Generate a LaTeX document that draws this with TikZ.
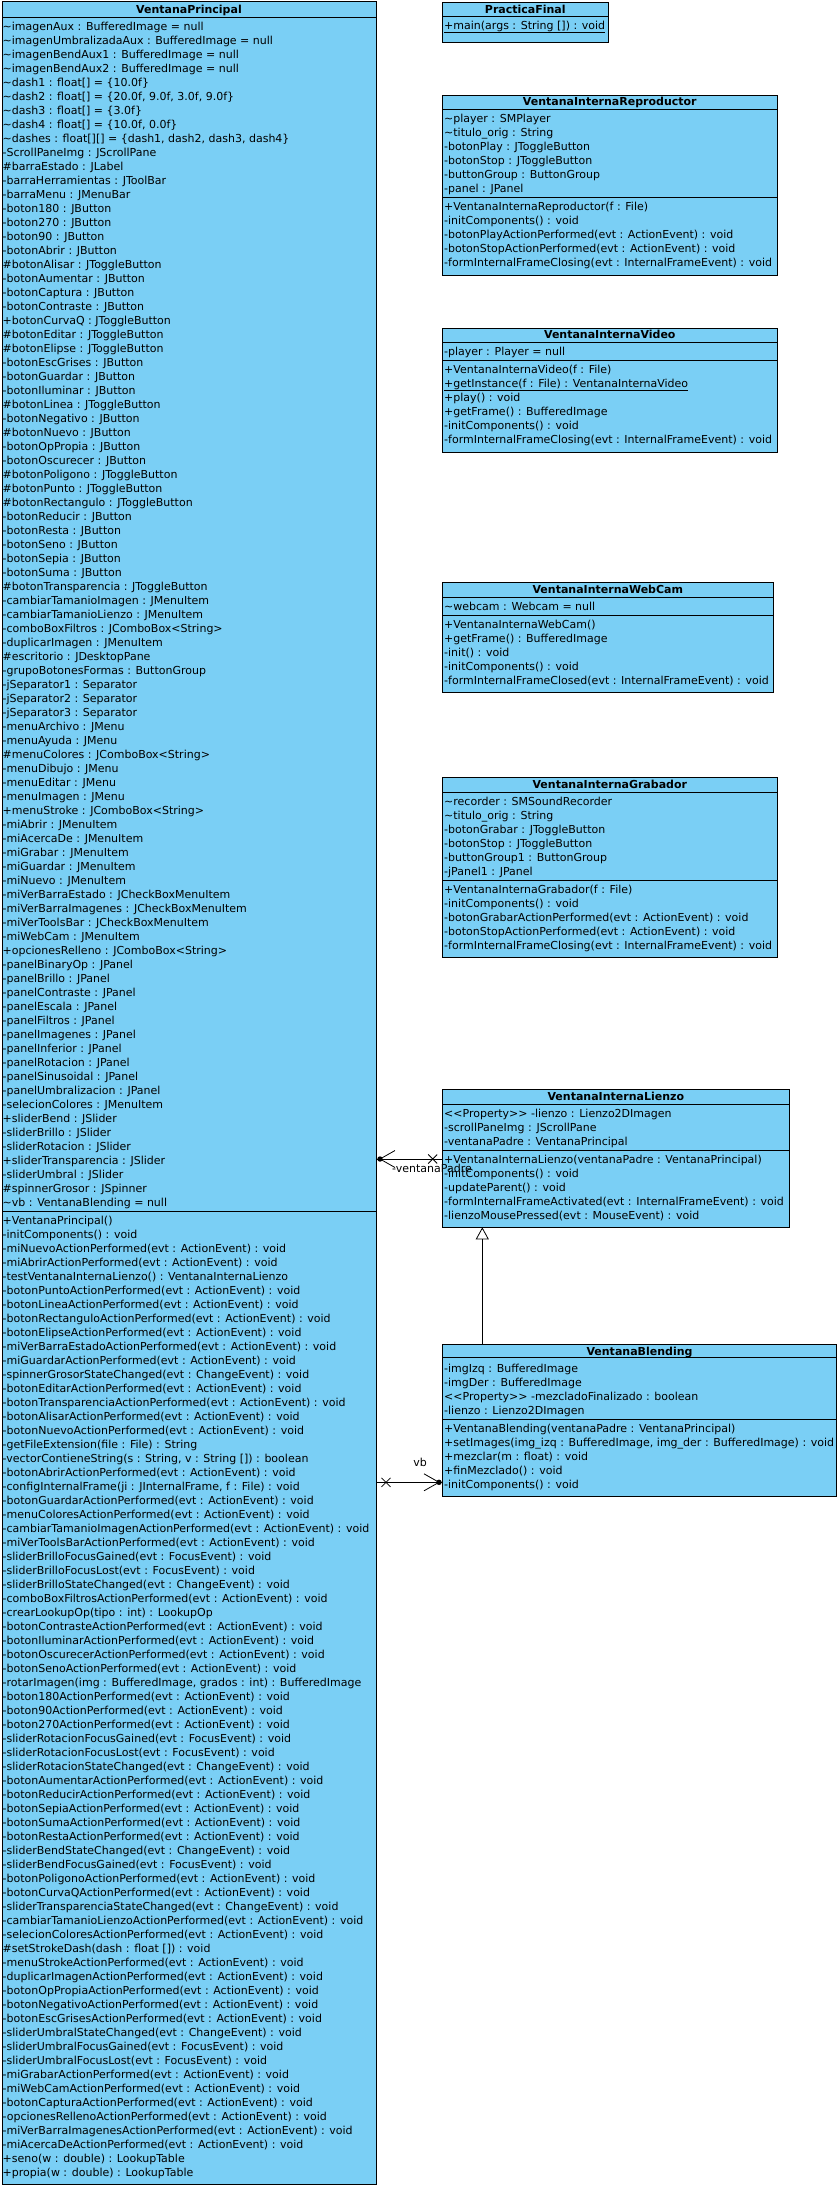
\documentclass[tikz,border=0pt]{standalone}
\usepackage{fontspec}
\setmainfont{DejaVu Sans}
\usetikzlibrary{arrows.meta}
\definecolor{clsblue}{RGB}{122,207,245}
\newcommand{\stereo}[1]{<\kern0pt<#1>\kern0pt>}
\newcommand{\vptilde}{\textasciitilde}
\begin{document}
\begin{tikzpicture}[x=1pt,y=-1pt,
  cls/.style={draw=black, fill=clsblue, line width=1pt, inner sep=0pt, outer sep=0pt, anchor=north west},
  rowtxt/.style={anchor=base west, inner sep=0pt, font=\fontsize{11}{14}\selectfont},
  ttl/.style={anchor=base, inner sep=0pt, font=\fontsize{11}{14}\selectfont\bfseries},
  sepline/.style={line width=1pt},
  conn/.style={line width=0.8pt},
  lbl/.style={inner sep=0pt, font=\fontsize{11}{14}\selectfont}]
\fill[white] (0,0) rectangle (840,2188);
\useasboundingbox (0,0) rectangle (840,2188);

% ---------------- VentanaPrincipal ----------------
\node[cls, minimum width=374pt, minimum height=2183pt] (vp) at (2,1) {};
\node[ttl] (vp-t) at (189,13.3) {VentanaPrincipal};
\draw[sepline] (vp.west |- 0,17) -- (vp.east |- 0,17);
\draw[sepline] (vp.west |- 0,1211) -- (vp.east |- 0,1211);
\foreach \t [count=\i from 0] in {
{\vptilde imagenAux : BufferedImage = null},
{\vptilde imagenUmbralizadaAux : BufferedImage = null},
{\vptilde imagenBendAux1 : BufferedImage = null},
{\vptilde imagenBendAux2 : BufferedImage = null},
{\vptilde dash1 : float[] = \{10.0f\}},
{\vptilde dash2 : float[] = \{20.0f, 9.0f, 3.0f, 9.0f\}},
{\vptilde dash3 : float[] = \{3.0f\}},
{\vptilde dash4 : float[] = \{10.0f, 0.0f\}},
{\vptilde dashes : float[][] = \{dash1, dash2, dash3, dash4\}},
{-ScrollPaneImg : JScrollPane},
{\#barraEstado : JLabel},
{-barraHerramientas : JToolBar},
{-barraMenu : JMenuBar},
{-boton180 : JButton},
{-boton270 : JButton},
{-boton90 : JButton},
{-botonAbrir : JButton},
{\#botonAlisar : JToggleButton},
{-botonAumentar : JButton},
{-botonCaptura : JButton},
{-botonContraste : JButton},
{+botonCurvaQ : JToggleButton},
{\#botonEditar : JToggleButton},
{\#botonElipse : JToggleButton},
{-botonEscGrises : JButton},
{-botonGuardar : JButton},
{-botonIluminar : JButton},
{\#botonLinea : JToggleButton},
{-botonNegativo : JButton},
{\#botonNuevo : JButton},
{-botonOpPropia : JButton},
{-botonOscurecer : JButton},
{\#botonPoligono : JToggleButton},
{\#botonPunto : JToggleButton},
{\#botonRectangulo : JToggleButton},
{-botonReducir : JButton},
{-botonResta : JButton},
{-botonSeno : JButton},
{-botonSepia : JButton},
{-botonSuma : JButton},
{\#botonTransparencia : JToggleButton},
{-cambiarTamanioImagen : JMenuItem},
{-cambiarTamanioLienzo : JMenuItem},
{-comboBoxFiltros : JComboBox<String>},
{-duplicarImagen : JMenuItem},
{\#escritorio : JDesktopPane},
{-grupoBotonesFormas : ButtonGroup},
{-jSeparator1 : Separator},
{-jSeparator2 : Separator},
{-jSeparator3 : Separator},
{-menuArchivo : JMenu},
{-menuAyuda : JMenu},
{\#menuColores : JComboBox<String>},
{-menuDibujo : JMenu},
{-menuEditar : JMenu},
{-menuImagen : JMenu},
{+menuStroke : JComboBox<String>},
{-miAbrir : JMenuItem},
{-miAcercaDe : JMenuItem},
{-miGrabar : JMenuItem},
{-miGuardar : JMenuItem},
{-miNuevo : JMenuItem},
{-miVerBarraEstado : JCheckBoxMenuItem},
{-miVerBarraImagenes : JCheckBoxMenuItem},
{-miVerToolsBar : JCheckBoxMenuItem},
{-miWebCam : JMenuItem},
{+opcionesRelleno : JComboBox<String>},
{-panelBinaryOp : JPanel},
{-panelBrillo : JPanel},
{-panelContraste : JPanel},
{-panelEscala : JPanel},
{-panelFiltros : JPanel},
{-panelImagenes : JPanel},
{-panelInferior : JPanel},
{-panelRotacion : JPanel},
{-panelSinusoidal : JPanel},
{-panelUmbralizacion : JPanel},
{-selecionColores : JMenuItem},
{+sliderBend : JSlider},
{-sliderBrillo : JSlider},
{-sliderRotacion : JSlider},
{+sliderTransparencia : JSlider},
{-sliderUmbral : JSlider},
{\#spinnerGrosor : JSpinner},
{\vptilde vb : VentanaBlending = null}
}{\node[rowtxt] (vp-a\i) at (2.5,30+14*\i) {\t};}
\foreach \t [count=\i from 0] in {
{+VentanaPrincipal()},
{-initComponents() : void},
{-miNuevoActionPerformed(evt : ActionEvent) : void},
{-miAbrirActionPerformed(evt : ActionEvent) : void},
{-testVentanaInternaLienzo() : VentanaInternaLienzo},
{-botonPuntoActionPerformed(evt : ActionEvent) : void},
{-botonLineaActionPerformed(evt : ActionEvent) : void},
{-botonRectanguloActionPerformed(evt : ActionEvent) : void},
{-botonElipseActionPerformed(evt : ActionEvent) : void},
{-miVerBarraEstadoActionPerformed(evt : ActionEvent) : void},
{-miGuardarActionPerformed(evt : ActionEvent) : void},
{-spinnerGrosorStateChanged(evt : ChangeEvent) : void},
{-botonEditarActionPerformed(evt : ActionEvent) : void},
{-botonTransparenciaActionPerformed(evt : ActionEvent) : void},
{-botonAlisarActionPerformed(evt : ActionEvent) : void},
{-botonNuevoActionPerformed(evt : ActionEvent) : void},
{-getFileExtension(file : File) : String},
{-vectorContieneString(s : String, v : String []) : boolean},
{-botonAbrirActionPerformed(evt : ActionEvent) : void},
{-configInternalFrame(ji : JInternalFrame, f : File) : void},
{-botonGuardarActionPerformed(evt : ActionEvent) : void},
{-menuColoresActionPerformed(evt : ActionEvent) : void},
{-cambiarTamanioImagenActionPerformed(evt : ActionEvent) : void},
{-miVerToolsBarActionPerformed(evt : ActionEvent) : void},
{-sliderBrilloFocusGained(evt : FocusEvent) : void},
{-sliderBrilloFocusLost(evt : FocusEvent) : void},
{-sliderBrilloStateChanged(evt : ChangeEvent) : void},
{-comboBoxFiltrosActionPerformed(evt : ActionEvent) : void},
{-crearLookupOp(tipo : int) : LookupOp},
{-botonContrasteActionPerformed(evt : ActionEvent) : void},
{-botonIluminarActionPerformed(evt : ActionEvent) : void},
{-botonOscurecerActionPerformed(evt : ActionEvent) : void},
{-botonSenoActionPerformed(evt : ActionEvent) : void},
{-rotarImagen(img : BufferedImage, grados : int) : BufferedImage},
{-boton180ActionPerformed(evt : ActionEvent) : void},
{-boton90ActionPerformed(evt : ActionEvent) : void},
{-boton270ActionPerformed(evt : ActionEvent) : void},
{-sliderRotacionFocusGained(evt : FocusEvent) : void},
{-sliderRotacionFocusLost(evt : FocusEvent) : void},
{-sliderRotacionStateChanged(evt : ChangeEvent) : void},
{-botonAumentarActionPerformed(evt : ActionEvent) : void},
{-botonReducirActionPerformed(evt : ActionEvent) : void},
{-botonSepiaActionPerformed(evt : ActionEvent) : void},
{-botonSumaActionPerformed(evt : ActionEvent) : void},
{-botonRestaActionPerformed(evt : ActionEvent) : void},
{-sliderBendStateChanged(evt : ChangeEvent) : void},
{-sliderBendFocusGained(evt : FocusEvent) : void},
{-botonPoligonoActionPerformed(evt : ActionEvent) : void},
{-botonCurvaQActionPerformed(evt : ActionEvent) : void},
{-sliderTransparenciaStateChanged(evt : ChangeEvent) : void},
{-cambiarTamanioLienzoActionPerformed(evt : ActionEvent) : void},
{-selecionColoresActionPerformed(evt : ActionEvent) : void},
{\#setStrokeDash(dash : float []) : void},
{-menuStrokeActionPerformed(evt : ActionEvent) : void},
{-duplicarImagenActionPerformed(evt : ActionEvent) : void},
{-botonOpPropiaActionPerformed(evt : ActionEvent) : void},
{-botonNegativoActionPerformed(evt : ActionEvent) : void},
{-botonEscGrisesActionPerformed(evt : ActionEvent) : void},
{-sliderUmbralStateChanged(evt : ChangeEvent) : void},
{-sliderUmbralFocusGained(evt : FocusEvent) : void},
{-sliderUmbralFocusLost(evt : FocusEvent) : void},
{-miGrabarActionPerformed(evt : ActionEvent) : void},
{-miWebCamActionPerformed(evt : ActionEvent) : void},
{-botonCapturaActionPerformed(evt : ActionEvent) : void},
{-opcionesRellenoActionPerformed(evt : ActionEvent) : void},
{-miVerBarraImagenesActionPerformed(evt : ActionEvent) : void},
{-miAcercaDeActionPerformed(evt : ActionEvent) : void},
{+seno(w : double) : LookupTable},
{+propia(w : double) : LookupTable}
}{\node[rowtxt] (vp-m\i) at (2.5,1224+14*\i) {\t};}

% ---------------- PracticaFinal ----------------
\node[cls, minimum width=166pt, minimum height=39.6pt] (pf) at (442.3,2.7) {};
\node[ttl] (pf-t) at (525.3,13) {PracticaFinal};
\draw[sepline] (pf.west |- 0,16) -- (pf.east |- 0,16);
\node[rowtxt] (pf-m0) at (444,29) {\underline{+main(args : String []) : void}};

% ---------------- VentanaInternaReproductor ----------------
\node[cls, minimum width=335pt, minimum height=180pt] (rep) at (442.3,95.3) {};
\node[ttl] (rep-t) at (609.8,105.7) {VentanaInternaReproductor};
\draw[sepline] (rep.west |- 0,109.3) -- (rep.east |- 0,109.3);
\draw[sepline] (rep.west |- 0,197.7) -- (rep.east |- 0,197.7);
\foreach \t [count=\i from 0] in {
{\vptilde player : SMPlayer},
{\vptilde titulo\_orig : String},
{-botonPlay : JToggleButton},
{-botonStop : JToggleButton},
{-buttonGroup : ButtonGroup},
{-panel : JPanel}
}{\node[rowtxt] (rep-a\i) at (444,122.3+14*\i) {\t};}
\foreach \t [count=\i from 0] in {
{+VentanaInternaReproductor(f : File)},
{-initComponents() : void},
{-botonPlayActionPerformed(evt : ActionEvent) : void},
{-botonStopActionPerformed(evt : ActionEvent) : void},
{-formInternalFrameClosing(evt : InternalFrameEvent) : void}
}{\node[rowtxt] (rep-m\i) at (444,210.3+14*\i) {\t};}

% ---------------- VentanaInternaVideo ----------------
\node[cls, minimum width=335pt, minimum height=123.6pt] (vid) at (442.3,328.7) {};
\node[ttl] (vid-t) at (609.8,338.7) {VentanaInternaVideo};
\draw[sepline] (vid.west |- 0,342.3) -- (vid.east |- 0,342.3);
\draw[sepline] (vid.west |- 0,360.3) -- (vid.east |- 0,360.3);
\node[rowtxt] (vid-a0) at (444,355) {-player : Player = null};
\foreach \t [count=\i from 0] in {
{+VentanaInternaVideo(f : File)},
{\underline{+getInstance(f : File) : VentanaInternaVideo}},
{+play() : void},
{+getFrame() : BufferedImage},
{-initComponents() : void},
{-formInternalFrameClosing(evt : InternalFrameEvent) : void}
}{\node[rowtxt] (vid-m\i) at (444,373+14*\i) {\t};}

% ---------------- VentanaInternaWebCam ----------------
\node[cls, minimum width=331pt, minimum height=109.3pt] (wc) at (442.3,582.7) {};
\node[ttl] (wc-t) at (607.8,593.3) {VentanaInternaWebCam};
\draw[sepline] (wc.west |- 0,597.7) -- (wc.east |- 0,597.7);
\draw[sepline] (wc.west |- 0,615.7) -- (wc.east |- 0,615.7);
\node[rowtxt] (wc-a0) at (444,610) {\vptilde webcam : Webcam = null};
\foreach \t [count=\i from 0] in {
{+VentanaInternaWebCam()},
{+getFrame() : BufferedImage},
{-init() : void},
{-initComponents() : void},
{-formInternalFrameClosed(evt : InternalFrameEvent) : void}
}{\node[rowtxt] (wc-m\i) at (444,628+14*\i) {\t};}

% ---------------- VentanaInternaGrabador ----------------
\node[cls, minimum width=335pt, minimum height=179.6pt] (gr) at (442.3,777.7) {};
\node[ttl] (gr-t) at (609.8,788) {VentanaInternaGrabador};
\draw[sepline] (gr.west |- 0,792.3) -- (gr.east |- 0,792.3);
\draw[sepline] (gr.west |- 0,880.7) -- (gr.east |- 0,880.7);
\foreach \t [count=\i from 0] in {
{\vptilde recorder : SMSoundRecorder},
{\vptilde titulo\_orig : String},
{-botonGrabar : JToggleButton},
{-botonStop : JToggleButton},
{-buttonGroup1 : ButtonGroup},
{-jPanel1 : JPanel}
}{\node[rowtxt] (gr-a\i) at (444,805+14*\i) {\t};}
\foreach \t [count=\i from 0] in {
{+VentanaInternaGrabador(f : File)},
{-initComponents() : void},
{-botonGrabarActionPerformed(evt : ActionEvent) : void},
{-botonStopActionPerformed(evt : ActionEvent) : void},
{-formInternalFrameClosing(evt : InternalFrameEvent) : void}
}{\node[rowtxt] (gr-m\i) at (444,893.3+14*\i) {\t};}

% ---------------- VentanaInternaLienzo ----------------
\node[cls, minimum width=347pt, minimum height=138pt] (lz) at (442.3,1089.3) {};
\node[ttl] (lz-t) at (615.8,1100) {VentanaInternaLienzo};
\draw[sepline] (lz.west |- 0,1104.3) -- (lz.east |- 0,1104.3);
\draw[sepline] (lz.west |- 0,1150.3) -- (lz.east |- 0,1150.3);
\foreach \t [count=\i from 0] in {
{\stereo{Property} -lienzo : Lienzo2DImagen},
{-scrollPaneImg : JScrollPane},
{-ventanaPadre : VentanaPrincipal}
}{\node[rowtxt] (lz-a\i) at (444,1117.3+14*\i) {\t};}
\foreach \t [count=\i from 0] in {
{+VentanaInternaLienzo(ventanaPadre : VentanaPrincipal)},
{-initComponents() : void},
{-updateParent() : void},
{-formInternalFrameActivated(evt : InternalFrameEvent) : void},
{-lienzoMousePressed(evt : MouseEvent) : void}
}{\node[rowtxt] (lz-m\i) at (444,1163.3+14*\i) {\t};}

% ---------------- VentanaBlending ----------------
\node[cls, minimum width=394.4pt, minimum height=151.3pt] (bl) at (442.3,1344.7) {};
\node[ttl] (bl-t) at (639.5,1355) {VentanaBlending};
\draw[sepline] (bl.west |- 0,1357.5) -- (bl.east |- 0,1357.5);
\draw[sepline] (bl.west |- 0,1419.7) -- (bl.east |- 0,1419.7);
\foreach \t [count=\i from 0] in {
{-imgIzq : BufferedImage},
{-imgDer : BufferedImage},
{\stereo{Property} -mezcladoFinalizado : boolean},
{-lienzo : Lienzo2DImagen}
}{\node[rowtxt] (bl-a\i) at (444,1372.3+14*\i) {\t};}
\foreach \t [count=\i from 0] in {
{+VentanaBlending(ventanaPadre : VentanaPrincipal)},
{+setImages(img\_izq : BufferedImage, img\_der : BufferedImage) : void},
{+mezclar(m : float) : void},
{+finMezclado() : void},
{-initComponents() : void}
}{\node[rowtxt] (bl-m\i) at (444,1432.3+14*\i) {\t};}

% ---------------- Connectors ----------------
\coordinate (c1) at (0,1159);
\draw[conn] (vp.east |- c1) -- (lz.west |- c1);
\path (vp.east |- c1) ++(4,0) coordinate (d1);
\fill (d1) circle (2.7pt);
\draw[conn] (d1) ++(15,-8.5) -- (d1) -- ++(15,8.5);
\path (lz.west |- c1) ++(-9.6,0) coordinate (x1);
\draw[conn] (x1) ++(-4.5,-4.5) -- ++(9,9) (x1) ++(-4.5,4.5) -- ++(9,-9);
\node[lbl, anchor=base west] (l1) at (392,1172.5) {-ventanaPadre};

\coordinate (c2) at (0,1482.3);
\draw[conn] (vp.east |- c2) -- (bl.west |- c2);
\path (bl.west |- c2) ++(-3.3,0) coordinate (d2);
\fill (d2) circle (2.7pt);
\draw[conn] (d2) ++(-15,-8.5) -- (d2) -- ++(-15,8.5);
\path (vp.east |- c2) ++(10,0) coordinate (x2);
\draw[conn] (x2) ++(-4.5,-4.5) -- ++(9,9) (x2) ++(-4.5,4.5) -- ++(9,-9);
\node[lbl, anchor=base] (l2) at (420,1466) {vb};

\coordinate (g1) at (482.3,0);
\draw[conn, -{Triangle[open, length=12pt, width=13pt]}] (bl.north -| g1) -- (lz.south -| g1);
\end{tikzpicture}
\end{document}
